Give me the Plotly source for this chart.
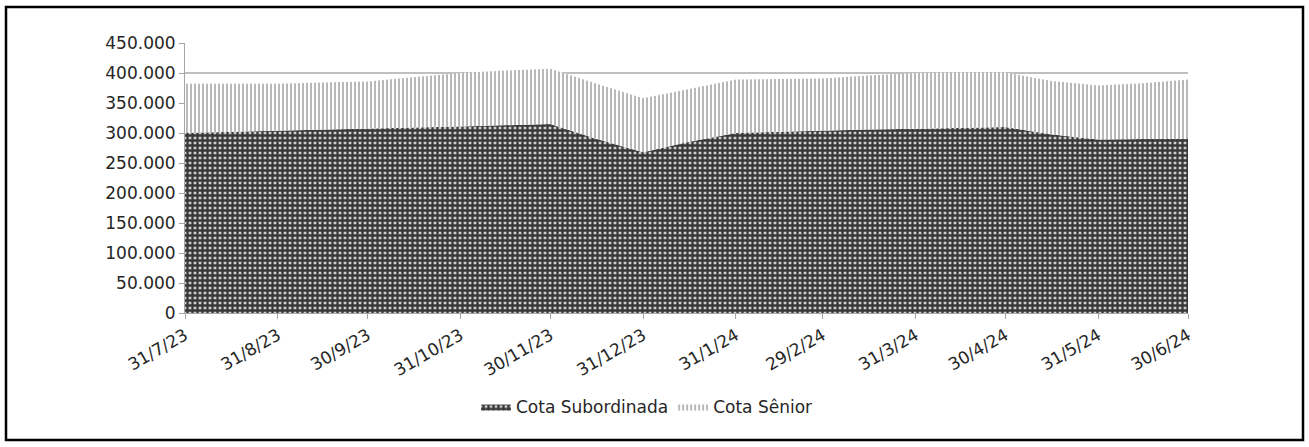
import plotly.graph_objects as go

dates = ["2023-07-31", "2023-08-15", "2023-08-31", "2023-09-15", "2023-09-30",
         "2023-10-15", "2023-10-31", "2023-11-15", "2023-11-30", "2023-12-15",
         "2023-12-31", "2024-01-15", "2024-01-31", "2024-02-15", "2024-02-29",
         "2024-03-15", "2024-03-31", "2024-04-15", "2024-04-30", "2024-05-15",
         "2024-05-31", "2024-06-15", "2024-06-30"]
cota_subordinada = [300000, 302000, 304000, 306000, 307000, 309000, 311000, 313000,
                    315000, 291000, 268000, 285000, 300000, 302000, 304000, 306000,
                    307000, 309000, 310000, 298000, 289000, 290000, 290000]
cota_senior = [82000, 80000, 78000, 78000, 79000, 84000, 89000, 91000, 92000, 92000,
               90000, 88000, 89000, 88000, 87000, 90000, 93000, 92000, 91000, 89000,
               90000, 93000, 99000]

tick_dates = ["2023-07-31", "2023-08-31", "2023-09-30", "2023-10-31", "2023-11-30",
              "2023-12-31", "2024-01-31", "2024-02-29", "2024-03-31", "2024-04-30",
              "2024-05-31", "2024-06-30"]
tick_labels = ["31/7/23", "31/8/23", "30/9/23", "31/10/23", "30/11/23", "31/12/23",
               "31/1/24", "29/2/24", "31/3/24", "30/4/24", "31/5/24", "30/6/24"]

FONT = "DejaVu Sans"
TXT = "#262626"

fig = go.Figure()
fig.add_trace(go.Scatter(
    x=dates, y=cota_subordinada, name="Cota Subordinada", mode="lines",
    stackgroup="one", line=dict(width=0, color="#404040"),
    fillcolor="#404040",
    fillpattern=dict(shape="+", fgcolor="#383838", bgcolor="#d0d0d0",
                     size=5, solidity=0.7, fillmode="replace"),
))
fig.add_trace(go.Scatter(
    x=dates, y=cota_senior, name="Cota Sênior", mode="lines",
    stackgroup="one", line=dict(width=0, color="#b0b0b0"),
    fillcolor="#b0b0b0",
    fillpattern=dict(shape="|", fgcolor="#a6a6a6", bgcolor="#ffffff",
                     size=4, solidity=0.4, fillmode="replace"),
))

L, R, T, B = 185, 121, 43, 134
W, H = 1309, 447
pw, ph = W - L - R, H - T - B

def px_x(p):
    return (p - L) / pw

def px_y(p):
    return (H - B - p) / ph

fig.update_layout(
    width=W, height=H,
    margin=dict(l=L, r=R, t=T, b=B, autoexpand=False),
    paper_bgcolor="white", plot_bgcolor="white",
    separators=",.",
    font=dict(family=FONT, size=17, color=TXT),
    showlegend=True,
    legend=dict(orientation="h", x=px_x(476), xanchor="left",
                y=px_y(407), yanchor="middle",
                font=dict(family=FONT, size=17, color=TXT),
                traceorder="normal"),
    xaxis=dict(type="date", range=["2023-07-31", "2024-06-30"],
               tickvals=tick_dates, ticktext=tick_labels, tickangle=-30,
               showgrid=False, showline=True, linecolor="#a6a6a6", linewidth=1,
               ticks="outside", ticklen=5, tickcolor="#a6a6a6",
               tickfont=dict(family=FONT, size=17, color=TXT), zeroline=False),
    yaxis=dict(range=[0, 450000], dtick=50000, tick0=0, tickformat=",d",
               showgrid=True, gridcolor="#bfbfbf", gridwidth=1.5,
               showline=True, linecolor="#a6a6a6", linewidth=1,
               ticks="outside", ticklen=5, tickcolor="#a6a6a6",
               tickfont=dict(family=FONT, size=17, color=TXT), zeroline=False),
    shapes=[dict(type="rect", xref="paper", yref="paper",
                 x0=px_x(6), x1=px_x(1303), y0=px_y(440), y1=px_y(7),
                 line=dict(color="black", width=2.5), fillcolor="rgba(0,0,0,0)",
                 layer="above")],
)

fig.write_html("out.html", config={"displayModeBar": False},
               post_script="document.body.style.margin='0';document.body.style.overflow='hidden';")
